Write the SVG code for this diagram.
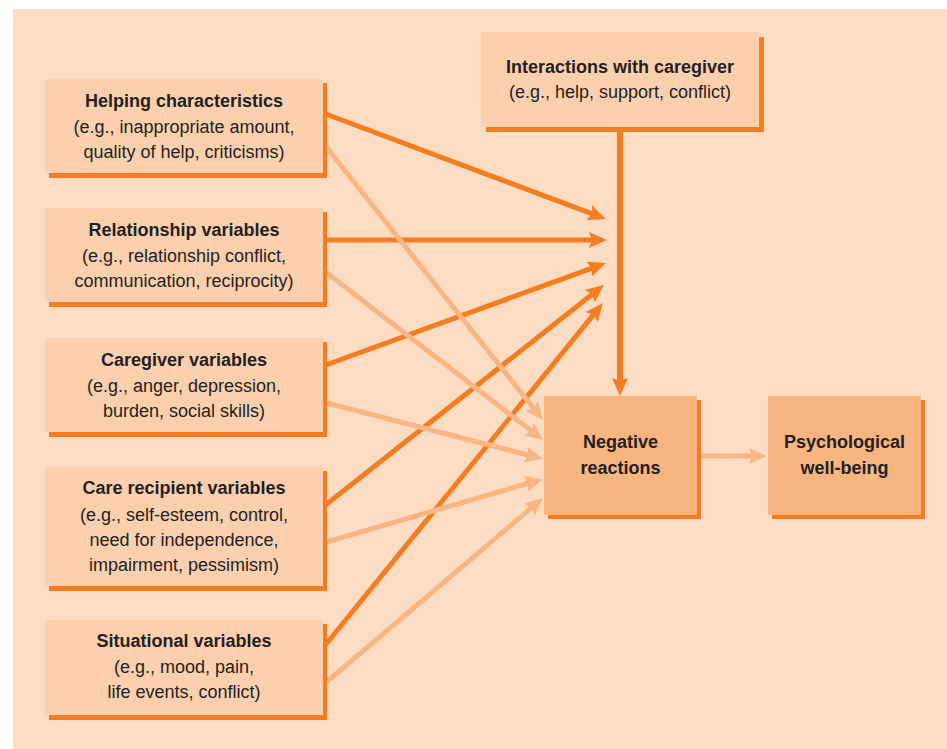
<svg xmlns="http://www.w3.org/2000/svg" width="947" height="749" viewBox="0 0 947 749">
  <defs>
    <style>
      .bg { fill: #fcddc4; }
      .box { fill: #fcd0ae; }
      .box-strong { fill: #f9b580; }
      .shadow { fill: #f47d22; }
      .t { font-family: "Liberation Sans", Arial, sans-serif; font-size: 18px; fill: #231f20; text-anchor: middle; }
      .b { font-weight: bold; }
      .dark { stroke: #f47d22; stroke-width: 5; fill: none; marker-end: url(#headDark); }
      .light { stroke: #f9b582; stroke-width: 5; fill: none; marker-end: url(#headLight); }
    </style>
    <marker id="headDark" markerUnits="userSpaceOnUse" viewBox="0 0 18 16" refX="12" refY="8" markerWidth="18" markerHeight="16" orient="auto">
      <path d="M0,0 L18,8 L0,16 L3,8 z" fill="#f47d22"/>
    </marker>
    <marker id="headLight" markerUnits="userSpaceOnUse" viewBox="0 0 18 16" refX="12" refY="8" markerWidth="18" markerHeight="16" orient="auto">
      <path d="M0,0 L18,8 L0,16 L3,8 z" fill="#f9b582"/>
    </marker>
  </defs>

  <rect class="bg" x="13" y="9" width="934" height="740"/>

  <g id="connectors">
    <!-- to the interaction line -->
    <line class="dark" x1="323" y1="113" x2="600.4" y2="216.9"/>
    <line class="dark" x1="323" y1="240" x2="601" y2="240"/>
    <line class="dark" x1="323" y1="366" x2="600.4" y2="265.1"/>
    <line class="dark" x1="323" y1="507" x2="599.3" y2="288.7"/>
    <line class="dark" x1="323" y1="648" x2="599.2" y2="307.7"/>
    <!-- interactions down to negative reactions -->
    <line class="dark" x1="620" y1="130" x2="620" y2="390" style="stroke-width:6"/>
    <!-- to negative reactions -->
    <line class="light" x1="323" y1="143" x2="539.3" y2="415.3"/>
    <line class="light" x1="323" y1="270" x2="538.3" y2="436.3"/>
    <line class="light" x1="323" y1="402" x2="537.2" y2="457.5"/>
    <line class="light" x1="323" y1="543" x2="537.2" y2="480.7"/>
    <line class="light" x1="323" y1="685" x2="538.4" y2="501.9"/>
    <line class="light" x1="697" y1="456" x2="761" y2="456"/>
  </g>

  <g id="helping">
    <rect class="shadow" x="49" y="83" width="278" height="95"/>
    <rect class="box" x="45" y="79" width="278" height="94"/>
    <text class="t b" x="184" y="107">Helping characteristics</text>
    <text class="t" x="184" y="133">(e.g., inappropriate amount,</text>
    <text class="t" x="184" y="158">quality of help, criticisms)</text>
  </g>

  <g id="relationship">
    <rect class="shadow" x="49" y="212" width="278" height="95"/>
    <rect class="box" x="45" y="208" width="278" height="94"/>
    <text class="t b" x="184" y="236">Relationship variables</text>
    <text class="t" x="184" y="262">(e.g., relationship conflict,</text>
    <text class="t" x="184" y="287">communication, reciprocity)</text>
  </g>

  <g id="caregiver">
    <rect class="shadow" x="49" y="342" width="278" height="95"/>
    <rect class="box" x="45" y="338" width="278" height="94"/>
    <text class="t b" x="184" y="366">Caregiver variables</text>
    <text class="t" x="184" y="392">(e.g., anger, depression,</text>
    <text class="t" x="184" y="417">burden, social skills)</text>
  </g>

  <g id="recipient">
    <rect class="shadow" x="49" y="471" width="278" height="120"/>
    <rect class="box" x="45" y="467" width="278" height="119"/>
    <text class="t b" x="184" y="494">Care recipient variables</text>
    <text class="t" x="184" y="521">(e.g., self-esteem, control,</text>
    <text class="t" x="184" y="546">need for independence,</text>
    <text class="t" x="184" y="571">impairment, pessimism)</text>
  </g>

  <g id="situational">
    <rect class="shadow" x="49" y="624" width="278" height="96"/>
    <rect class="box" x="45" y="620" width="278" height="95"/>
    <text class="t b" x="184" y="647">Situational variables</text>
    <text class="t" x="184" y="673">(e.g., mood, pain,</text>
    <text class="t" x="184" y="698">life events, conflict)</text>
  </g>

  <g id="interactions">
    <rect class="shadow" x="486" y="37" width="278" height="95"/>
    <rect class="box" x="481" y="32" width="278" height="95"/>
    <text class="t b" x="620" y="73">Interactions with caregiver</text>
    <text class="t" x="620" y="98">(e.g., help, support, conflict)</text>
  </g>

  <g id="negative">
    <rect class="shadow" x="548" y="400" width="153" height="119"/>
    <rect class="box-strong" x="544" y="396" width="153" height="119"/>
    <text class="t b" x="620.5" y="448">Negative</text>
    <text class="t b" x="620.5" y="474">reactions</text>
  </g>

  <g id="wellbeing">
    <rect class="shadow" x="772" y="400" width="153" height="119"/>
    <rect class="box-strong" x="768" y="396" width="153" height="119"/>
    <text class="t b" x="844.5" y="448">Psychological</text>
    <text class="t b" x="844.5" y="474">well-being</text>
  </g>
</svg>
